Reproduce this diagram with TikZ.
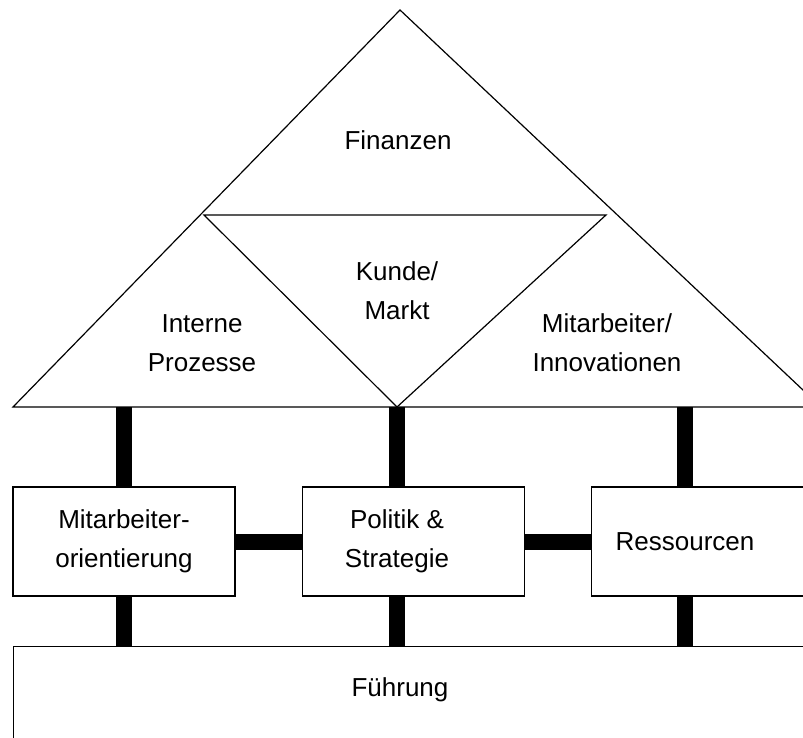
\documentclass[tikz,border=0pt]{standalone}
\usepackage{fontspec}
\setmainfont{Liberation Sans}
\usetikzlibrary{positioning}
\tikzstyle{kasten} = [draw, rectangle, line width=1pt, minimum width=166.5pt, minimum height=81.75pt, inner sep=0pt]
\tikzstyle{beschriftung} = [align=center, inner sep=0pt, font=\fontsize{19.5}{29}\selectfont]
\tikzstyle{balken} = [line width=12pt]
\tikzstyle{dach} = [line width=0.9pt, line join=miter]

\begin{document}
\begin{tikzpicture}[x=0.75pt, y=-0.75pt]
	\useasboundingbox (0,0) rectangle (803,738);
	\clip (0,0) rectangle (803,738);
	% Dach
	\coordinate (spitze) at (400,10);
	\coordinate (links) at (13,407);
	\coordinate (rechts) at (821,407);
	\coordinate (il) at (204,215);
	\coordinate (ir) at (606,215);
	\coordinate (iu) at (397,407);
	\coordinate (ra) at (685,407);
	\draw[dach] (spitze) -- (rechts) -- (links) -- cycle;
	\draw[dach] (il) -- (ir) -- (iu) -- cycle;
	\node[beschriftung] (finanzen) at (398,140) {Finanzen};
	\node[beschriftung] (kunde) at (397,291) {Kunde/\\Markt};
	\node[beschriftung] (prozesse) at (202,343) {Interne\\Prozesse};
	\node[beschriftung] (innovation) at (607,343) {Mitarbeiter/\\Innovationen};
	% Saeulen
	\node[kasten] (mao) at (124,541.5) {};
	\node[kasten, right=49.5pt of mao] (politik) {};
	\node[kasten, right=49.5pt of politik] (ressourcen) {};
	\node[kasten, minimum width=600pt, minimum height=78pt, anchor=north west] (fuehrung) at (13,646) {};
	\node[beschriftung] (t_mao) at (mao) {Mitarbeiter-\\orientierung};
	\node[beschriftung] (t_politik) at (iu |- politik) {Politik \&\\Strategie};
	\node[beschriftung] (t_ressourcen) at (ra |- ressourcen) {Ressourcen};
	\node[beschriftung] (t_fuehrung) at (400,690) {Führung};
	% Balken
	\draw[balken] (mao.north |- links) -- (mao.north);
	\draw[balken] (iu) -- (iu |- politik.north);
	\draw[balken] (ra) -- (ra |- ressourcen.north);
	\draw[balken] (mao.south) -- (mao.south |- fuehrung.north);
	\draw[balken] (iu |- politik.south) -- (iu |- fuehrung.north);
	\draw[balken] (ra |- ressourcen.south) -- (ra |- fuehrung.north);
	\draw[balken] (mao.east) -- (politik.west);
	\draw[balken] (politik.east) -- (ressourcen.west);
\end{tikzpicture}
\end{document}
